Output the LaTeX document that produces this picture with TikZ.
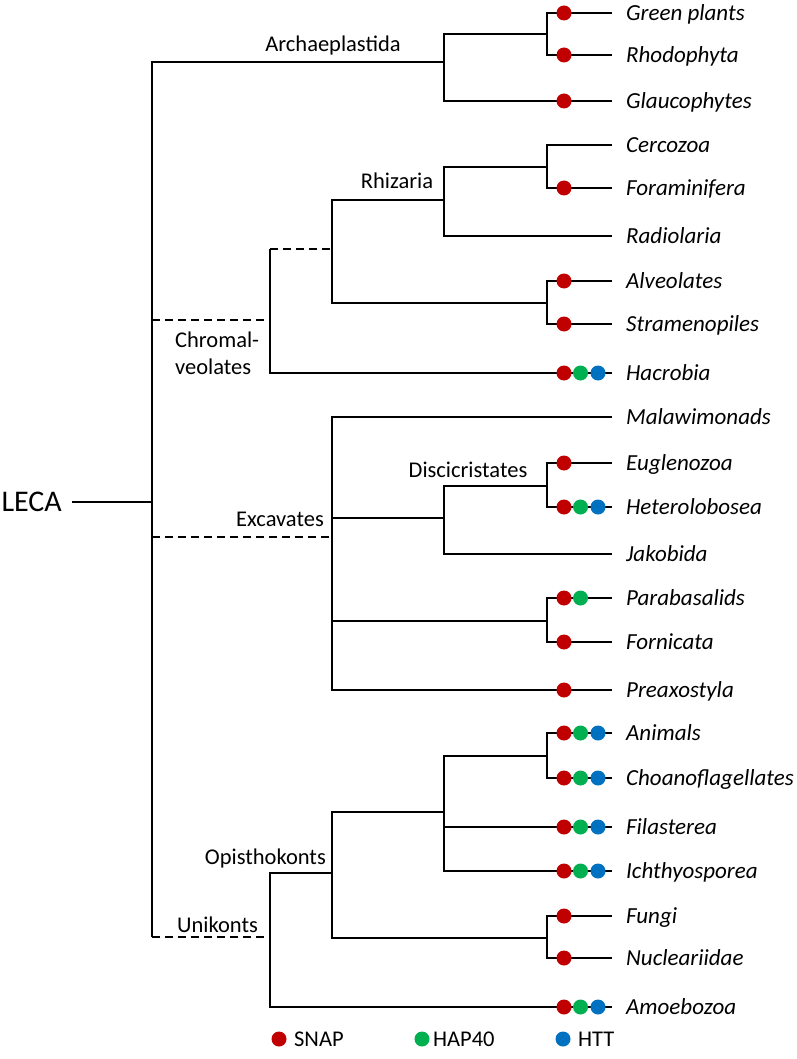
\documentclass[tikz,border=0pt]{standalone}
\usepackage{fontspec}
\setmainfont{Carlito}
\definecolor{snapc}{HTML}{C00000}
\definecolor{hapc}{HTML}{00B050}
\definecolor{httc}{HTML}{0070C0}
\newcommand{\lf}[3]{\coordinate (#1) at (612,#2); \node[leaflab] (#1-t) at (625,#2+7.5) {#3};}
\begin{document}
\begin{tikzpicture}[x=1pt,y=-1pt,line width=2.3pt,line join=miter,
  leaflab/.style={anchor=base west,inner sep=0,font=\fontsize{23}{27}\selectfont\itshape},
  clade/.style={inner sep=0,font=\fontsize{22.5}{27}\selectfont},
  dot/.style={circle,inner sep=0,minimum size=15pt,fill=#1,draw=none},
  dashedge/.style={dash pattern=on 8pt off 5pt}]
\useasboundingbox (0,0) rectangle (796,1059);
% leaves
\lf{green}{13}{Green plants}
\lf{rhodo}{55}{Rhodophyta}
\lf{glau}{101}{Glaucophytes}
\lf{cerco}{145}{Cercozoa}
\lf{foram}{188}{Foraminifera}
\lf{radio}{236}{Radiolaria}
\lf{alveo}{281}{Alveolates}
\lf{stram}{324}{Stramenopiles}
\lf{hacro}{373}{Hacrobia}
\lf{malaw}{417}{Malawimonads}
\lf{eugl}{463}{Euglenozoa}
\lf{heter}{507}{Heterolobosea}
\lf{jako}{554}{Jakobida}
\lf{parab}{598}{Parabasalids}
\lf{fornic}{642}{Fornicata}
\lf{preax}{690}{Preaxostyla}
\lf{anim}{733}{Animals}
\lf{choano}{778}{Choanoflagellates}
\lf{filas}{827}{Filasterea}
\lf{ichth}{871}{Ichthyosporea}
\lf{fungi}{916}{Fungi}
\lf{nucl}{958}{Nucleariidae}
\lf{amoeb}{1007}{Amoebozoa}
% internal points
\coordinate (root) at (152,502);
\coordinate (lecaend) at (72,502);
\coordinate (arch) at (444,62);
\coordinate (gr) at (547,34);
\coordinate (chrom) at (270,320);
\coordinate (rzal) at (332,249);
\coordinate (rhiz) at (444,200);
\coordinate (cf) at (547,167);
\coordinate (as) at (547,303);
\coordinate (exc) at (332,537);
\coordinate (disc) at (444,518);
\coordinate (eh) at (547,486);
\coordinate (pf) at (547,621);
\coordinate (uni) at (270,937);
\coordinate (opis) at (332,873);
\coordinate (hol) at (444,812);
\coordinate (ac) at (547,756);
\coordinate (fn) at (547,938);
% LECA
\node[anchor=east,inner sep=0,font=\fontsize{30}{36}\selectfont] (leca) at (63,502) {LECA};
\draw (lecaend) -- (root);
% root
\draw (root) |- (arch);
\draw (root) -- (root |- uni);
\draw[dashedge] (root |- chrom) -- (chrom);
\draw[dashedge] (root |- exc) -- (exc);
\draw[dashedge] (root |- uni) -- (uni);
% Archaeplastida
\draw (arch) |- (gr); \draw (arch) |- (glau);
\draw (gr) |- (green); \draw (gr) |- (rhodo);
% Chromalveolates
\draw (chrom |- rzal) -- (chrom |- hacro) -- (hacro);
\draw[dashedge] (chrom |- rzal) -- (rzal);
\draw (rzal) |- (rhiz); \draw (rzal) |- (as);
\draw (rhiz) |- (cf); \draw (rhiz) |- (radio);
\draw (cf) |- (cerco); \draw (cf) |- (foram);
\draw (as) |- (alveo); \draw (as) |- (stram);
% Excavates
\draw (exc) |- (malaw); \draw (exc) |- (preax);
\draw (exc) |- (disc); \draw (exc) |- (pf);
\draw (disc) |- (eh); \draw (disc) |- (jako);
\draw (eh) |- (eugl); \draw (eh) |- (heter);
\draw (pf) |- (parab); \draw (pf) |- (fornic);
% Unikonts
\draw (uni) |- (opis); \draw (uni) |- (amoeb);
\draw (opis) |- (hol); \draw (opis) |- (fn);
\draw (hol) |- (ac); \draw (hol) |- (filas); \draw (hol) |- (ichth);
\draw (ac) |- (anim); \draw (ac) |- (choano);
\draw (fn) |- (fungi); \draw (fn) |- (nucl);
% clade labels
\node[clade,anchor=base] (l-arch) at (333,52) {Archaeplastida};
\node[clade,anchor=base] (l-rhiz) at (397,189) {Rhizaria};
\node[clade,anchor=west,align=left,font=\fontsize{22.5}{27}\selectfont] (l-chrom) at (174,353) {Chromal-\\veolates};
\node[clade,anchor=base east] (l-exc) at (325,526) {Excavates};
\node[clade,anchor=base] (l-disc) at (468,477) {Discicristates};
\node[clade,anchor=base east] (l-opis) at (327,864) {Opisthokonts};
\node[clade,anchor=base west] (l-uni) at (176,932) {Unikonts};
% dots
\foreach \n in {green,rhodo,glau,foram,alveo,stram,hacro,eugl,heter,parab,fornic,preax,anim,choano,filas,ichth,fungi,nucl,amoeb}
  \node[dot=snapc] (\n-r) at (564,0 |- \n) {};
\foreach \n in {hacro,heter,parab,anim,choano,filas,ichth,amoeb}
  \node[dot=hapc] (\n-g) at (580.5,0 |- \n) {};
\foreach \n in {hacro,heter,anim,choano,filas,ichth,amoeb}
  \node[dot=httc] (\n-b) at (598,0 |- \n) {};
% legend
\node[dot=snapc] (k-snap) at (279,1039) {};
\node[clade,anchor=west] (k-snap-t) at (293,1039) {SNAP};
\node[dot=hapc] (k-hap) at (422,1039) {};
\node[clade,anchor=west] (k-hap-t) at (432,1039) {HAP40};
\node[dot=httc] (k-htt) at (563,1039) {};
\node[clade,anchor=west] (k-htt-t) at (577,1039) {HTT};
\end{tikzpicture}
\end{document}
